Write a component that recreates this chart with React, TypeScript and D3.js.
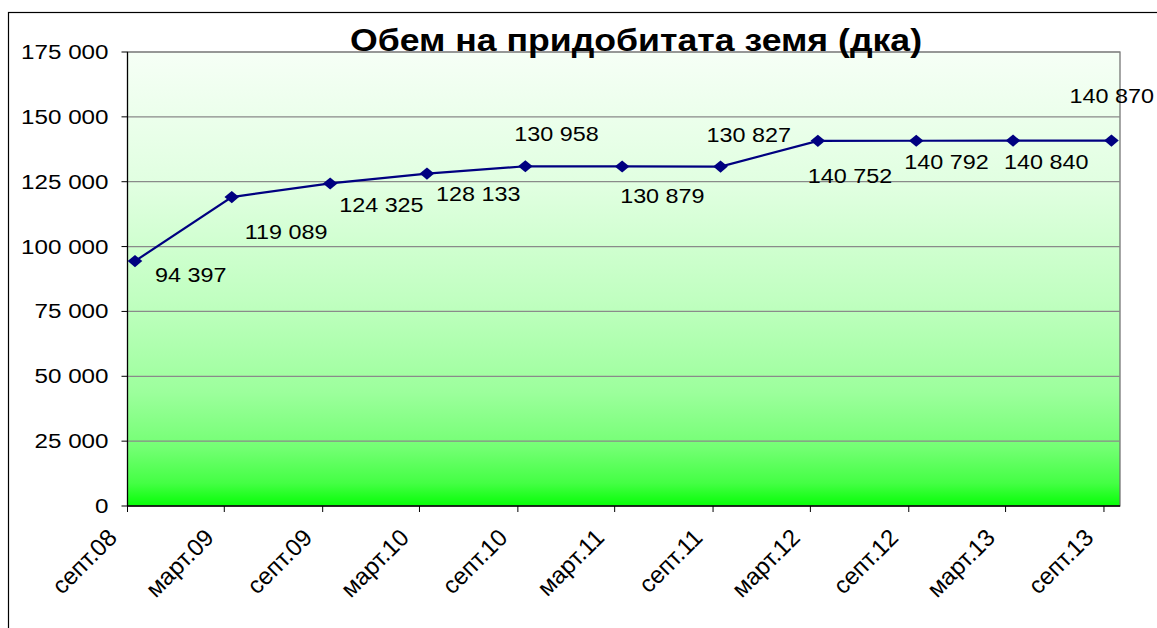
import React from "react";
import * as d3 from "d3";

const periods = ["септ.08", "март.09", "септ.09", "март.10", "септ.10", "март.11", "септ.11", "март.12", "септ.12", "март.13", "септ.13"];
const periodMonths = ["2008-09", "2009-03", "2009-09", "2010-03", "2010-09", "2011-03", "2011-09", "2012-03", "2012-09", "2013-03", "2013-09"];
const values = [94397, 119089, 124325, 128133, 130958, 130879, 130827, 140752, 140792, 140840, 140870];
const yTicks = [0, 25000, 50000, 75000, 100000, 125000, 150000, 175000];
const title = "Обем на придобитата земя (дка)";

// label placement (layout only): offset of text start/baseline from the point
const labelOffsets: [number, number][] = [
  [20, 21], [13, 42], [9, 29], [9, 27], [-11, -25], [-2, 37], [-14, -25], [-10, 42], [-12, 28], [-9, 28], [-42, -38],
];

const W = 1157, H = 628;
const plot = { left: 127.5, top: 52, right: 1120, bottom: 506 };
const FONT = "'Liberation Sans', Arial, sans-serif";

const loc = d3.formatLocale({ thousands: " ", grouping: [3], decimal: ",", currency: ["", ""] });
const fmt = loc.format(",d");

const parseMonth = (s: string, day: number) => {
  const [y, m] = s.split("-").map(Number);
  return new Date(y, m - 1, day);
};

export default function App() {
  const tickDates = periodMonths.map((s) => parseMonth(s, 1));
  const pointDates = periodMonths.map((s) => parseMonth(s, 15));
  const lastTick = tickDates[tickDates.length - 1];
  const x = d3.scaleTime()
    .domain([tickDates[0], new Date(lastTick.getFullYear(), lastTick.getMonth() + 1, 1)])
    .range([plot.left, plot.right]);
  const y = d3.scaleLinear().domain([0, 175000]).range([plot.bottom, plot.top]);

  const pts = values.map((v, i) => [x(pointDates[i]), y(v)] as [number, number]);
  const line = d3.line()(pts) || "";
  const diamond = d3.symbol(d3.symbolSquare, 74)() || "";

  return (
    <svg width={W} height={H} style={{ position: "absolute", left: 0, top: 0, background: "#fff" }} fontFamily={FONT}>
      <defs>
        <linearGradient id="bg" x1="0" y1="0" x2="0" y2="1">
          <stop offset="0" stopColor="#f6fff6" />
          <stop offset="0.3" stopColor="#e0ffe0" />
          <stop offset="0.55" stopColor="#c0ffc0" />
          <stop offset="0.75" stopColor="#9cff9c" />
          <stop offset="0.87" stopColor="#74ff74" />
          <stop offset="0.95" stopColor="#44ff44" />
          <stop offset="1" stopColor="#06ff06" />
        </linearGradient>
      </defs>
      <rect x={8.5} y={12.5} width={1170} height={640} fill="#fff" stroke="#000" strokeWidth={1.2} />
      <rect x={plot.left} y={plot.top} width={plot.right - plot.left} height={plot.bottom - plot.top} fill="url(#bg)" stroke="#6b6b6b" strokeWidth={1.2} />
      {yTicks.filter((t) => t > 0).map((t) => (
        <line key={t} x1={plot.left} x2={plot.right} y1={y(t)} y2={y(t)} stroke="#8a8a8a" strokeWidth={1.2} />
      ))}
      {/* axes */}
      <line x1={plot.left} x2={plot.left} y1={plot.top} y2={plot.bottom} stroke="#000" strokeWidth={1.2} />
      <line x1={plot.left} x2={plot.right} y1={plot.bottom} y2={plot.bottom} stroke="#000" strokeWidth={1.5} />
      {yTicks.map((t) => (
        <g key={t}>
          <line x1={plot.left - 6} x2={plot.left} y1={y(t)} y2={y(t)} stroke="#000" strokeWidth={1} />
          <text transform={`translate(${plot.left - 19},${y(t) + 7}) scale(1.18,1)`} textAnchor="end" fontSize={20.5} fill="#000">
            {fmt(t)}
          </text>
        </g>
      ))}
      {tickDates.map((d, i) => (
        <g key={i}>
          <line x1={x(d)} x2={x(d)} y1={plot.bottom} y2={plot.bottom + 6} stroke="#000" strokeWidth={1} />
          <text transform={`translate(${x(d) - 9},${plot.bottom + 33}) rotate(-45)`} textAnchor="end" fontSize={24} fill="#000">
            {periods[i]}
          </text>
        </g>
      ))}
      <path d={line} fill="none" stroke="#000080" strokeWidth={2.2} />
      {pts.map((p, i) => (
        <path key={i} d={diamond} transform={`translate(${p[0]},${p[1]}) scale(1.2,1) rotate(45)`} fill="#000080" />
      ))}
      {pts.map((p, i) => (
        <text key={i} transform={`translate(${p[0] + labelOffsets[i][0]},${p[1] + labelOffsets[i][1]}) scale(1.14,1)`} fontSize={20.5} fill="#000">
          {fmt(values[i])}
        </text>
      ))}
      <text x={350} y={51} fontSize={32} fontWeight="bold" textLength={572} lengthAdjust="spacingAndGlyphs" fill="#000">
        {title}
      </text>
    </svg>
  );
}
